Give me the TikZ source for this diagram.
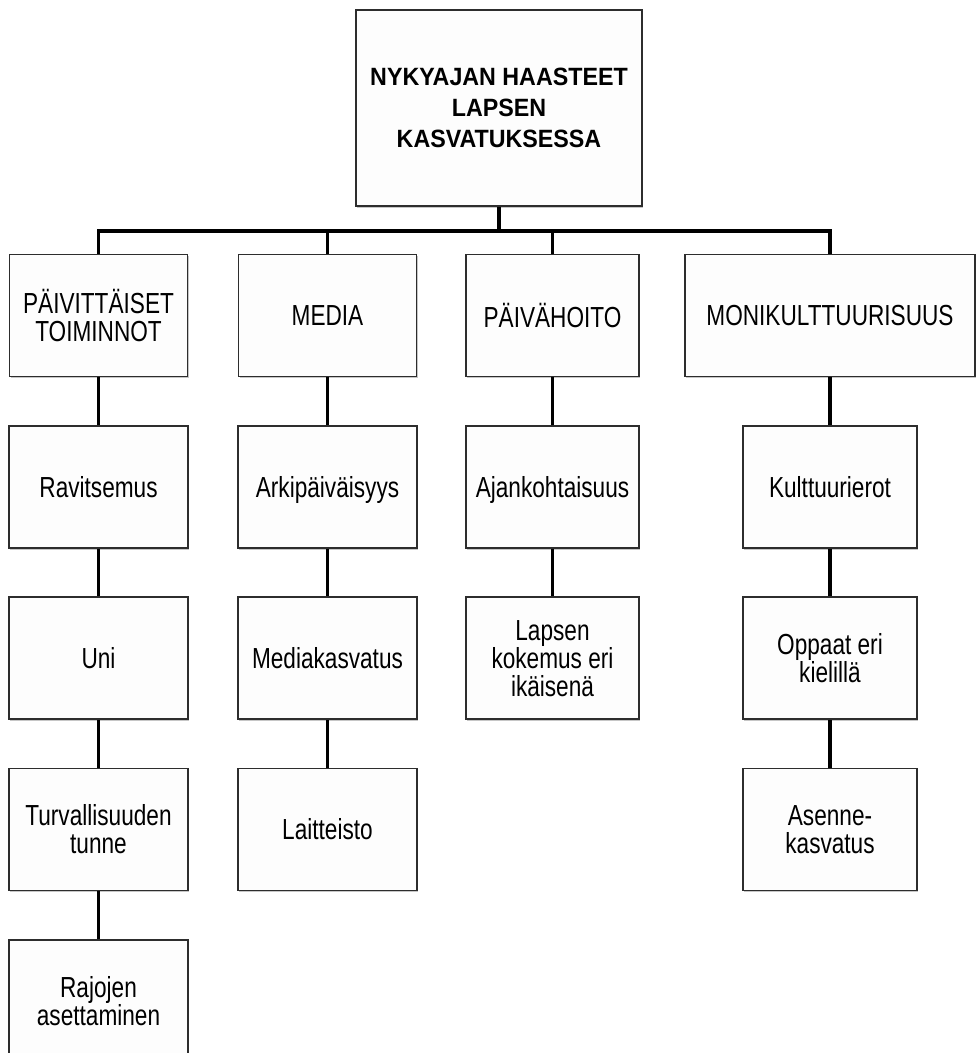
\documentclass[tikz,border=0pt]{standalone}
\usepackage{fontspec}
\setmainfont{Liberation Sans}[FakeStretch=0.78]
\newfontfamily\titlefont{Liberation Sans}[FakeStretch=0.93]
\usepackage{tikz}
\usetikzlibrary{positioning,shadows}
\definecolor{edgecolor}{RGB}{45,45,45}
\definecolor{boxcolor}{RGB}{253,253,253}
\tikzset{
  boxnd/.style={draw=edgecolor, fill=boxcolor, line width=1.8pt, align=center,
    inner sep=0pt, minimum height=122pt, text depth=0pt,
    drop shadow={shadow xshift=1.4pt, shadow yshift=-1.8pt, opacity=0.45},
    font=\fontsize{29}{28}\selectfont},
  headnd/.style={boxnd, minimum width=286pt, minimum height=196pt,
    font=\titlefont\bfseries\fontsize{25}{31}\selectfont},
  linkln/.style={line width=3.8pt, black},
}

\begin{document}
\begin{tikzpicture}[x=1pt, y=-1pt, node distance=47.5pt]
  \useasboundingbox (0,0) rectangle (980,1053);
  \node[headnd] (top) at (499,108) {NYKYAJAN HAASTEET\\LAPSEN\\KASVATUKSESSA};
  % themes
  \node[boxnd, minimum width=178pt] (pv) at (98.5,315.5) {PÄIVITTÄISET\\TOIMINNOT};
  \node[boxnd, minimum width=178pt] (md) at (327.5,315.5) {MEDIA};
  \node[boxnd, minimum width=173pt] (ph) at (552.5,315.5) {PÄIVÄHOITO};
  \node[boxnd, minimum width=290pt] (mk) at (830,315.5) {MONIKULTTUURISUUS};
  % sub topics
  \node[boxnd, minimum width=179pt, below=of pv] (pv1) {Ravitsemus};
  \node[boxnd, minimum width=179pt, below=of pv1] (pv2) {Uni};
  \node[boxnd, minimum width=179pt, below=of pv2] (pv3) {Turvallisuuden\\tunne};
  \node[boxnd, minimum width=179pt, below=of pv3] (pv4) {Rajojen\\asettaminen};
  \node[boxnd, minimum width=179pt, below=of md] (md1) {Arkipäiväisyys};
  \node[boxnd, minimum width=179pt, below=of md1] (md2) {Mediakasvatus};
  \node[boxnd, minimum width=179pt, below=of md2] (md3) {Laitteisto};
  \node[boxnd, minimum width=173pt, below=of ph] (ph1) {Ajankohtaisuus};
  \node[boxnd, minimum width=173pt, below=of ph1] (ph2) {Lapsen\\kokemus eri\\ikäisenä};
  \node[boxnd, minimum width=174pt, below=of mk] (mk1) {Kulttuurierot};
  \node[boxnd, minimum width=174pt, below=of mk1] (mk2) {Oppaat eri\\kielillä};
  \node[boxnd, minimum width=174pt, below=of mk2] (mk3) {Asenne-\\kasvatus};
  % connectors
  \coordinate (bar) at (0,231);
  \draw[linkln] (top.south) -- (top.south |- bar);
  \draw[linkln] (pv.north) -- (pv.north |- bar) -| (mk.north);
  \draw[linkln] (md.north) -- (md.north |- bar);
  \draw[linkln] (ph.north) -- (ph.north |- bar);
  \foreach \a/\b in {pv/pv1, pv1/pv2, pv2/pv3, pv3/pv4, md/md1, md1/md2, md2/md3,
                     ph/ph1, ph1/ph2, mk/mk1, mk1/mk2, mk2/mk3}
    \draw[linkln] (\a) -- (\b);
\end{tikzpicture}
\end{document}
